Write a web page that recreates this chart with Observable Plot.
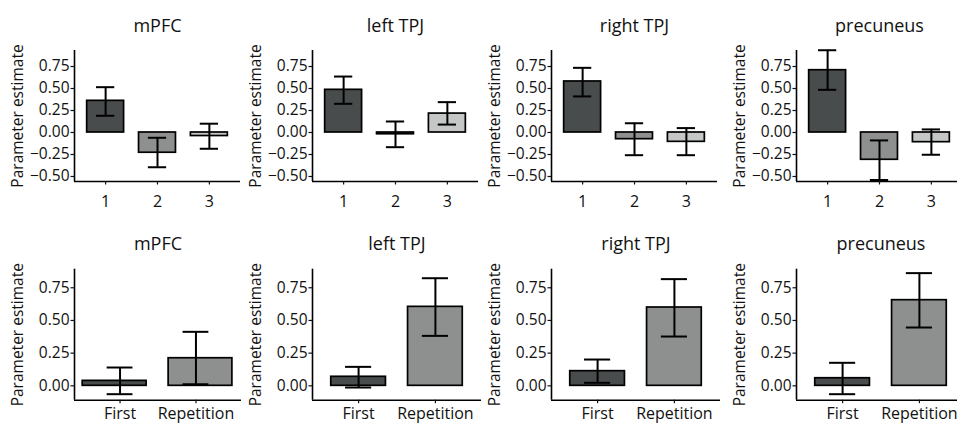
<!DOCTYPE html>
<html><head><meta charset="utf-8">
<script src="https://cdn.jsdelivr.net/npm/d3@7"></script>
<script src="https://cdn.jsdelivr.net/npm/@observablehq/plot@0.6"></script>
<style>
body{margin:0;background:#fff;}
#chart{position:relative;width:957px;height:423px;overflow:hidden;font-family:"Open Sans",sans-serif;background:#fff;}
.panel{position:absolute;}
.panel svg{max-width:none !important;}
</style></head><body><div id="chart"></div>
<script>
// ---- data ----
const regions = ["mPFC", "left TPJ", "right TPJ", "precuneus"];
const yLabel = "Parameter estimate";

const topConditions = ["1", "2", "3"];
const topMeans = [[0.36, -0.23, -0.04], [0.485, -0.02, 0.215], [0.58, -0.076, -0.106], [0.708, -0.31, -0.11]];
const topLower = [[0.19, -0.395, -0.185], [0.326, -0.167, 0.09], [0.41, -0.258, -0.258], [0.485, -0.54, -0.253]];
const topUpper = [[0.515, -0.06, 0.10], [0.636, 0.125, 0.345], [0.735, 0.105, 0.05], [0.935, -0.09, 0.035]];
const topYTicks = [-0.5, -0.25, 0, 0.25, 0.5, 0.75];

const bottomConditions = ["First", "Repetition"];
const bottomMeans = [[0.038, 0.211], [0.069, 0.604], [0.112, 0.599], [0.058, 0.655]];
const bottomLower = [[-0.064, 0.012], [-0.013, 0.382], [0.023, 0.377], [-0.064, 0.446]];
const bottomUpper = [[0.14, 0.413], [0.145, 0.823], [0.201, 0.816], [0.176, 0.862]];
const bottomYTicks = [0, 0.25, 0.5, 0.75];

// ---- styles / layout ----
const fills = ["#494c4c", "#8e8f8f", "#c5c6c6"];
const axisLeft = [74, 311.7, 550.7, 796];
const marginLeft = 70;
const rowStyle = {
  top: {top: 0, height: 212, marginTop: 50, marginBottom: 31, yDomain: [-0.557, 0.932], plotWidth: [166, 166, 166, 166], tickPadding: 10.5, titleDy: -24, capHalf: 0.176},
  bottom: {top: 212, height: 211, marginTop: 56.7, marginBottom: 23.3, yDomain: [-0.11, 0.892], plotWidth: [167, 169, 169, 169], tickPadding: 4, titleDy: -24.5, capHalf: 0.17}
};
// bar extents around each category position (style); the mPFC bottom panel is drawn offset in the original
const defaultExtent = [-0.356, 0.356];
const bottomExtents = [[[-0.492, 0.35], [-0.36, 0.48]], null, null, null];

const chart = document.getElementById("chart");

function panel(rowKey, r, conds, means, lower, upper, yTicks, extents) {
  const s = rowStyle[rowKey];
  const n = conds.length;
  const data = conds.map((c, i) => {
    const ext = extents ? extents[i] : defaultExtent;
    return {pos: i + 1, cond: c, mean: means[i], lo: lower[i], hi: upper[i], x1: i + 1 + ext[0], x2: i + 1 + ext[1], fill: fills[i]};
  });
  const xDomain = [0.4, n + 0.6];
  const w = marginLeft + s.plotWidth[r] + 4;
  const plot = Plot.plot({
    width: w,
    height: s.height,
    marginLeft, marginRight: 4, marginTop: s.marginTop, marginBottom: s.marginBottom,
    x: {domain: xDomain},
    y: {domain: s.yDomain},
    color: {type: "identity"},
    style: {fontFamily: "'Open Sans', sans-serif", fontSize: "15.5px", color: "#111", background: "transparent", overflow: "visible", maxWidth: "none"},
    marks: [
      Plot.rectY(data, {x1: "x1", x2: "x2", y1: 0, y2: "mean", fill: "fill", stroke: "#000", strokeWidth: 1.7}),
      Plot.ruleX(data, {x: "pos", y1: "lo", y2: "hi", stroke: "#000", strokeWidth: 2}),
      Plot.ruleY(data, {x1: d => d.pos - s.capHalf, x2: d => d.pos + s.capHalf, y: "lo", stroke: "#000", strokeWidth: 2}),
      Plot.ruleY(data, {x1: d => d.pos - s.capHalf, x2: d => d.pos + s.capHalf, y: "hi", stroke: "#000", strokeWidth: 2}),
      Plot.ruleX([xDomain[0]], {stroke: "#000", strokeWidth: 1.6}),
      Plot.ruleY([s.yDomain[0]], {stroke: "#000", strokeWidth: 1.6}),
      Plot.axisY({ticks: yTicks, tickFormat: d3.format(".2f"), tickSize: 3.5, tickPadding: 1.5, label: null, strokeWidth: 1.2}),
      Plot.axisX({ticks: data.map(d => d.pos), tickFormat: p => conds[p - 1], tickSize: 3.5, tickPadding: s.tickPadding, label: null, strokeWidth: 1.2, fontSize: 16}),
      Plot.text([regions[r]], {frameAnchor: "top", dy: s.titleDy, fontSize: 18, lineAnchor: "middle", fill: "#111"}),
      Plot.text([yLabel], {frameAnchor: "left", rotate: -90, dx: -56, fontSize: 15.5, lineAnchor: "middle", textAnchor: "middle", fill: "#111"})
    ]
  });
  const div = document.createElement("div");
  div.className = "panel";
  div.style.left = (axisLeft[r] - marginLeft) + "px";
  div.style.top = s.top + "px";
  div.style.width = w + "px";
  div.appendChild(plot);
  chart.appendChild(div);
}

regions.forEach((name, r) => {
  panel("top", r, topConditions, topMeans[r], topLower[r], topUpper[r], topYTicks, null);
});
regions.forEach((name, r) => {
  panel("bottom", r, bottomConditions, bottomMeans[r], bottomLower[r], bottomUpper[r], bottomYTicks, bottomExtents[r]);
});
</script>
</body></html>
